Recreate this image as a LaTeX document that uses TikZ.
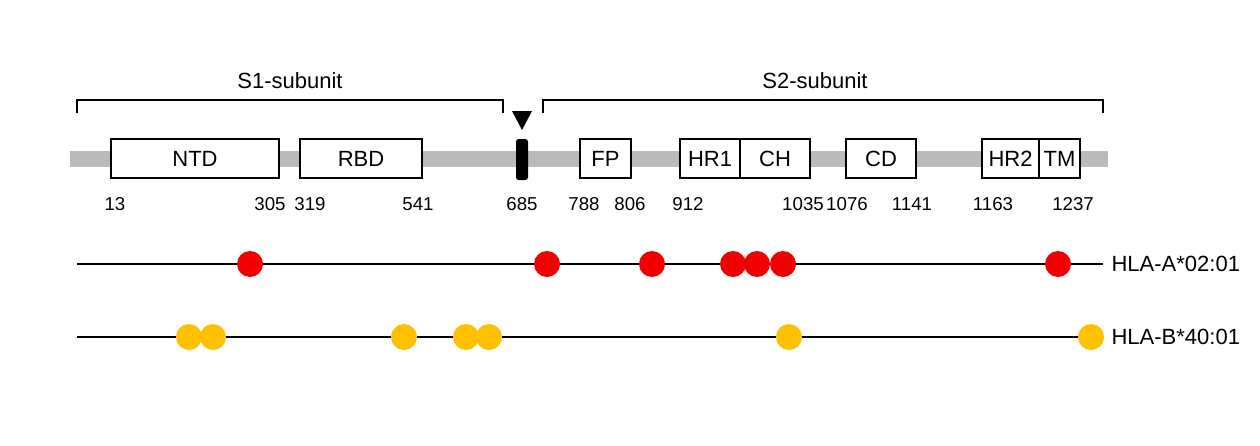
\documentclass[tikz,border=0pt]{standalone}
\usepackage{fontspec}
\setmainfont{Liberation Sans}
\definecolor{gold}{HTML}{FFC000}
\definecolor{rd}{HTML}{F00000}
\begin{document}
\begin{tikzpicture}[x=0.75pt,y=-0.75pt,
  dom/.style={draw=black,fill=white,line width=1pt},
  num/.style={font=\fontsize{14}{16}\selectfont},
  lab/.style={font=\fontsize{16.5}{18}\selectfont},
  rdot/.style={circle,fill=rd,minimum size=19.5pt,inner sep=0pt},
  ydot/.style={circle,fill=gold,minimum size=19.5pt,inner sep=0pt},
  br/.style={line width=1pt}]
\useasboundingbox (0,0) rectangle (1260,446);
\fill[black!27] (70,151) rectangle (1108,167);
\draw[dom] (111,139) rectangle node[lab]{NTD} (279,178);
\draw[dom] (300,139) rectangle node[lab]{RBD} (422,178);
\fill[rounded corners=2pt] (516,139) rectangle (528,180);
\fill (512,111) -- (532,111) -- (522,130) -- cycle;
\draw[dom] (580,139) rectangle node[lab]{FP} (631,178);
\draw[dom] (680,139) rectangle node[lab]{HR1} (740,178);
\draw[dom] (740,139) rectangle node[lab]{CH} (810,178);
\draw[dom] (846,139) rectangle node[lab]{CD} (916,178);
\draw[dom] (982,139) rectangle node[lab]{HR2} (1039,178);
\draw[dom] (1039,139) rectangle node[lab]{TM} (1080,178);
\draw[br] (77,113) -- (77,100) -- (503,100) -- (503,113);
\draw[br] (543,113) -- (543,100) -- (1103,100) -- (1103,113);
\node[lab] (s1) at (290,81) {S1-subunit};
\node[lab] (s2) at (815,81) {S2-subunit};
\foreach \x/\t in {115/13,270/305,310/319,418/541,522/685,584/788,630/806,688/912,803/1035,847/1076,912/1141,993/1163,1073/1237}
  \node[num] at (\x,204) {\t};
\draw[line width=1pt] (77,264) -- (1103,264);
\draw[line width=1pt] (77,337) -- (1103,337);
\foreach \x in {250,547,652,733,757,783,1058} \node[rdot] at (\x,264) {};
\foreach \x in {189,213,404,466,489,789,1091} \node[ydot] at (\x,337) {};
\node[lab,anchor=west,inner sep=1pt] (a) at (1110,264) {HLA-A*02:01};
\node[lab,anchor=west,inner sep=1pt] (b) at (1110,337) {HLA-B*40:01};
\end{tikzpicture}
\end{document}
